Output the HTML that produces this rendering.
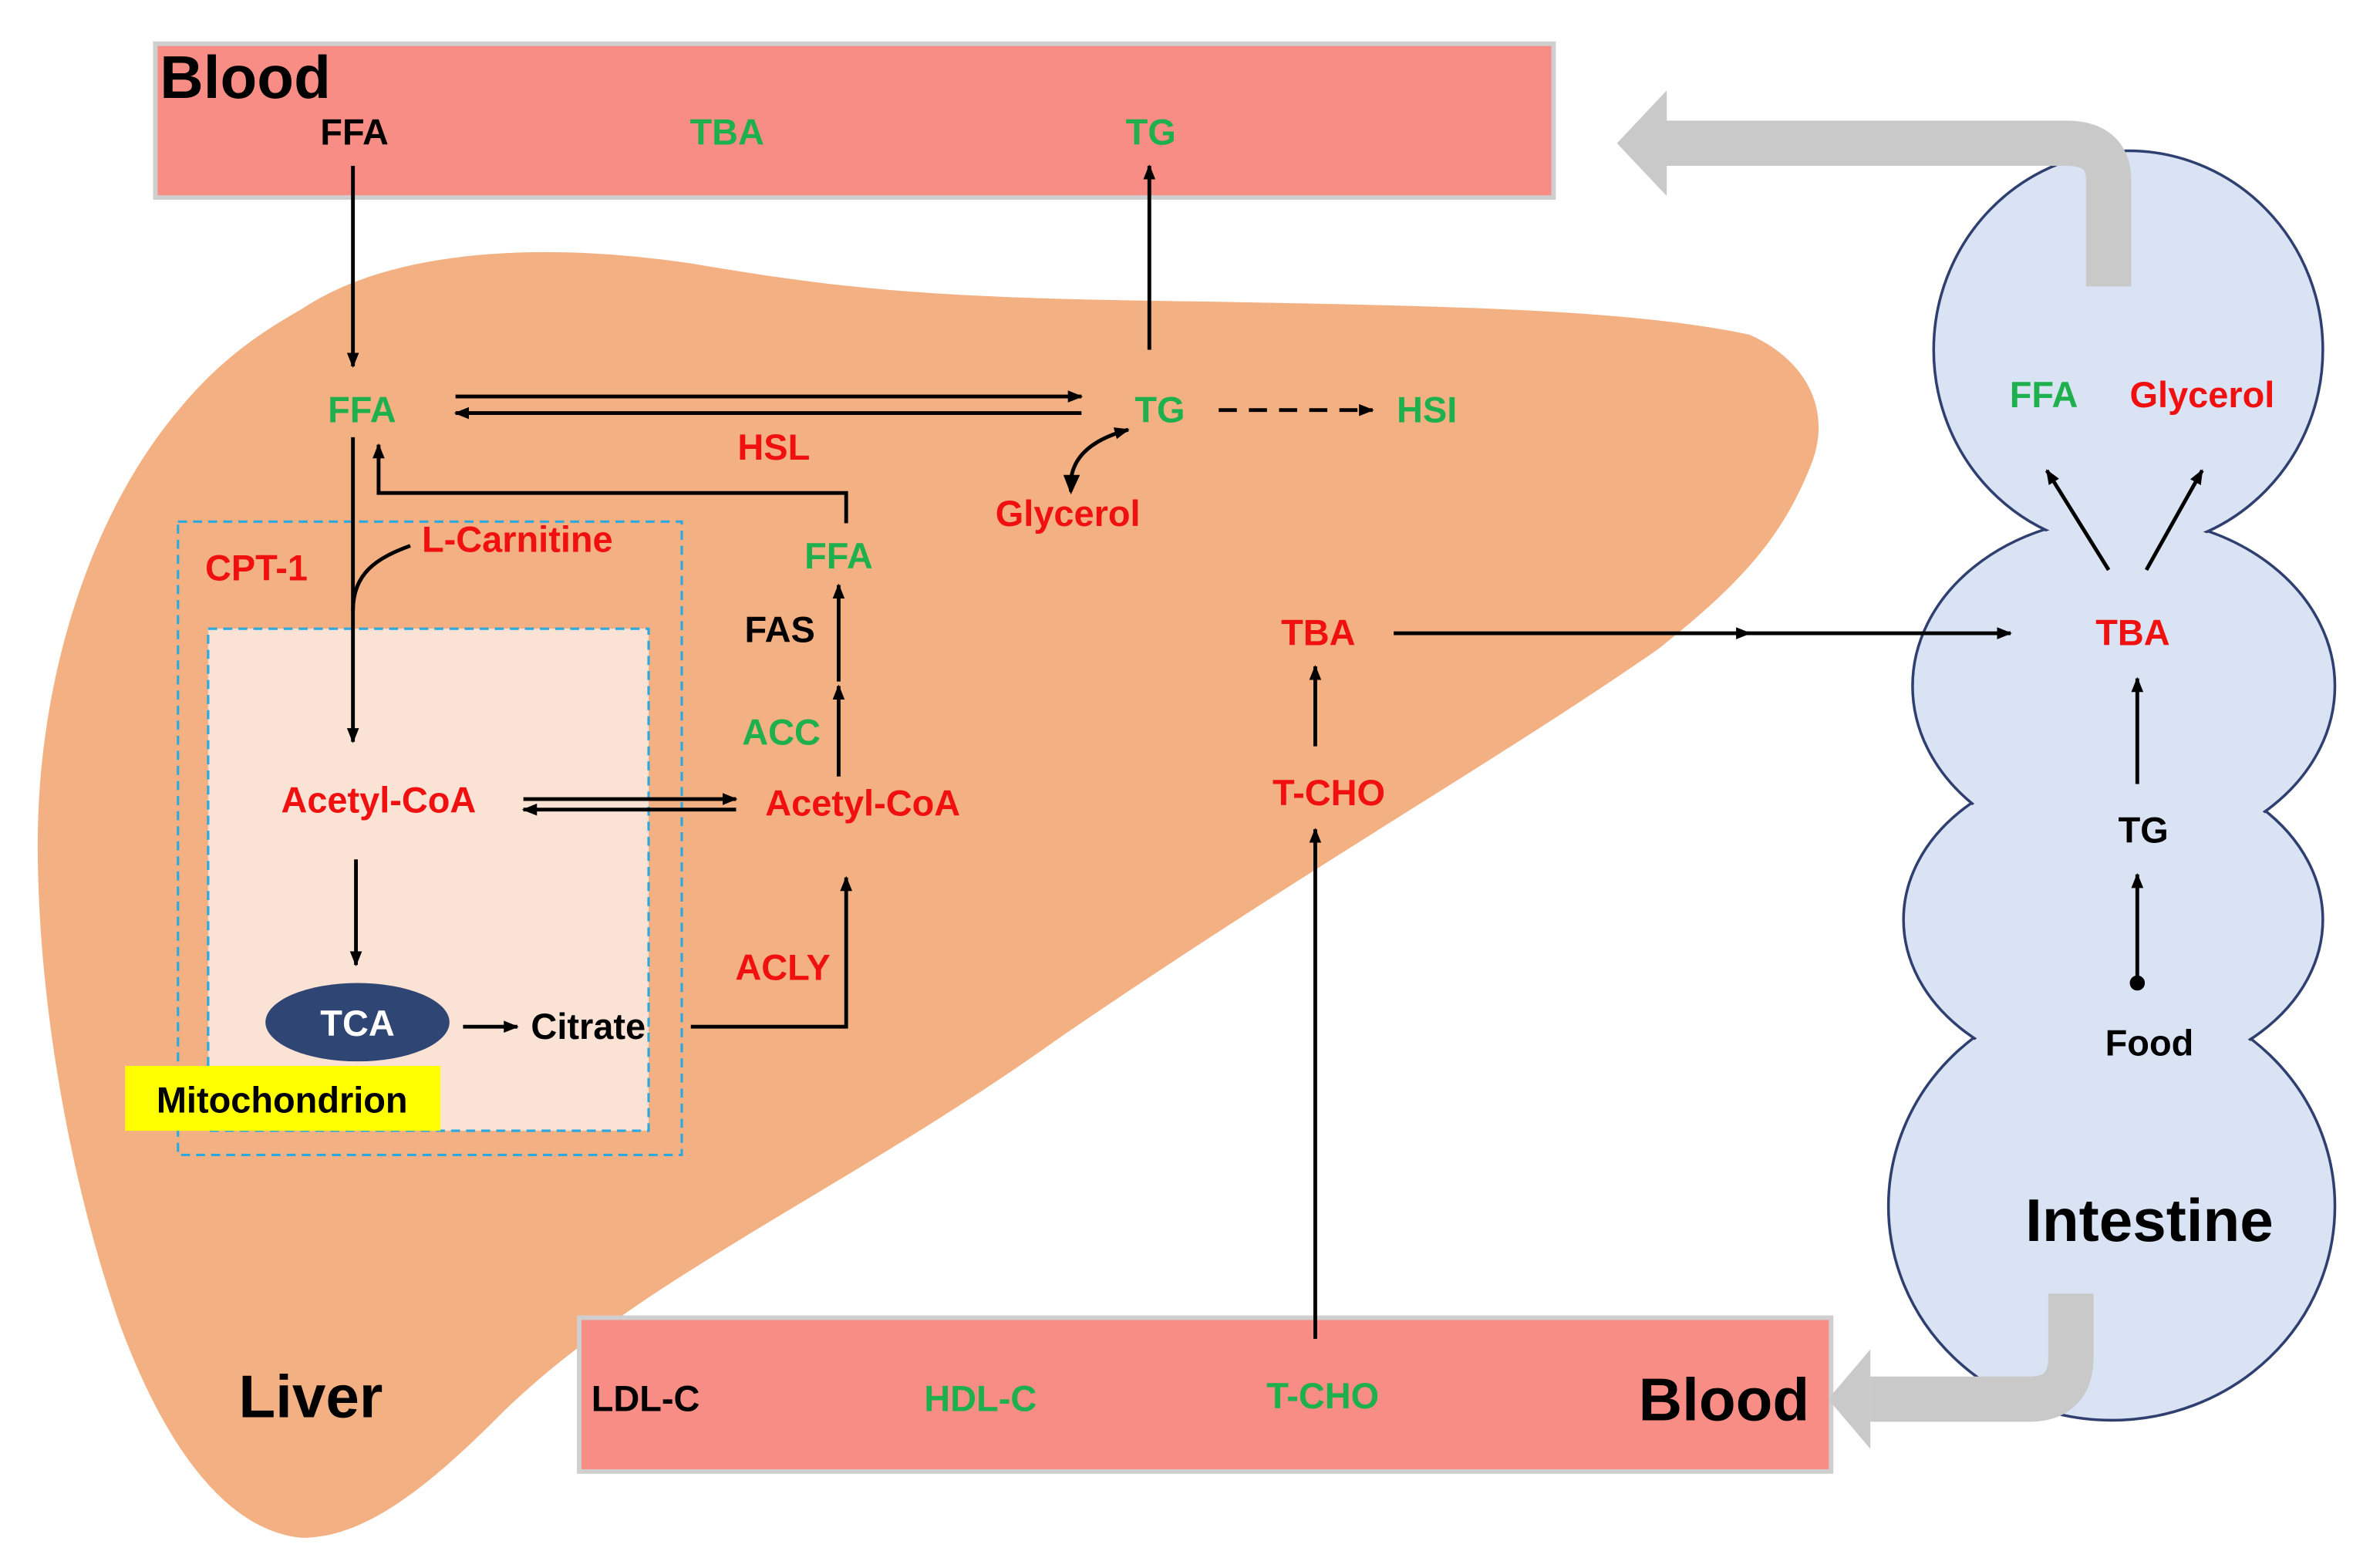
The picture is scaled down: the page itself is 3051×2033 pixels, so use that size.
<!DOCTYPE html>
<html><head><meta charset="utf-8"><style>
html,body{margin:0;padding:0;background:#fff;}
svg{display:block;}
text{font-family:"Liberation Sans",Arial,sans-serif;font-weight:bold;}
</style></head><body>
<svg width="3051" height="2033" viewBox="0 0 1560 1040" preserveAspectRatio="none" xmlns="http://www.w3.org/2000/svg">
<defs>
<marker id="ah" markerWidth="10" markerHeight="10" refX="9" refY="5" orient="auto" markerUnits="userSpaceOnUse">
<path d="M0,1 L10,5 L0,9 Z" fill="#000"/></marker>
</defs>
<path d="M200,205 C260,165 360,160 460,175 C560,192 620,198 800,200 C960,203 1080,205 1160,222 C1200,240 1215,275 1200,310 C1180,360 1150,390 1100,430 C1000,500 860,580 700,690 C560,790 420,850 330,940 C280,990 240,1020 200,1020 C150,1015 110,960 80,880 C45,780 25,660 25,560 C25,450 60,340 120,270 C145,240 170,222 200,205 Z" fill="#f3b183"/>
<rect x="118" y="346" width="334" height="420" fill="none" stroke="#29a9e0" stroke-width="1.6" stroke-dasharray="6,4"/>
<rect x="138" y="417" width="292" height="333" fill="#fae3d5" stroke="#29a9e0" stroke-width="1.6" stroke-dasharray="6,4"/>
<g fill="#dae3f3" stroke="#2f3f6f" stroke-width="1.8">
<ellipse cx="1400" cy="800" rx="148" ry="142"/>
<ellipse cx="1401" cy="610" rx="139" ry="105"/>
<ellipse cx="1408" cy="455" rx="140" ry="112"/>
<ellipse cx="1411" cy="232" rx="129" ry="132"/>
</g>
<g fill="#dae3f3" stroke="none">
<ellipse cx="1400" cy="800" rx="146.5" ry="140.5"/>
<ellipse cx="1401" cy="610" rx="137.5" ry="103.5"/>
<ellipse cx="1408" cy="455" rx="138.5" ry="110.5"/>
<ellipse cx="1411" cy="232" rx="127.5" ry="130.5"/>
</g>
<rect x="103" y="29" width="927" height="102" fill="#f88d86" stroke="#cfcfcf" stroke-width="3"/>
<rect x="384" y="874" width="830" height="102" fill="#f88d86" stroke="#cfcfcf" stroke-width="3"/>
<path d="M1398,190 L1398,120 Q1398,95 1370,95 L1100,95" fill="none" stroke="#c9c9c9" stroke-width="30"/>
<path d="M1072,95 L1105,60 L1105,130 Z" fill="#c9c9c9"/>
<path d="M1373,858 L1373,900 Q1373,928 1345,928 L1240,928" fill="none" stroke="#c9c9c9" stroke-width="30"/>
<path d="M1212,928 L1240,895 L1240,961 Z" fill="#c9c9c9"/>
<g stroke="#000" stroke-width="2.5" fill="none" marker-end="url(#ah)">
<line x1="234" y1="110" x2="234" y2="243"/>
<line x1="762" y1="232" x2="762" y2="110"/>
<line x1="302" y1="263" x2="717" y2="263"/>
<line x1="717" y1="274" x2="302" y2="274"/>
<line x1="808" y1="272" x2="910" y2="272" stroke-dasharray="12,8"/>
<path d="M710,326 C708,305 722,292 748,285"/>
<path d="M561,347 L561,327 L251,327 L251,295"/>
<line x1="234" y1="290" x2="234" y2="492"/>
<line x1="347" y1="530" x2="488" y2="530"/>
<line x1="488" y1="537" x2="347" y2="537"/>
<line x1="236" y1="570" x2="236" y2="640"/>
<line x1="307" y1="681" x2="343" y2="681"/>
<path d="M458,681 L561,681 L561,582"/>
<line x1="556" y1="515" x2="556" y2="455"/>
<line x1="556" y1="452" x2="556" y2="388"/>
<line x1="872" y1="495" x2="872" y2="442"/>
<line x1="872" y1="888" x2="872" y2="550"/>
<line x1="924" y1="420" x2="1160" y2="420"/>
<line x1="1150" y1="420" x2="1333" y2="420"/>
<line x1="1417" y1="520" x2="1417" y2="450"/>
<line x1="1417" y1="652" x2="1417" y2="580"/>
<line x1="1398" y1="378" x2="1357" y2="312"/>
<line x1="1423" y1="378" x2="1460" y2="312"/>
</g>
<path d="M705,315 L710,328 L716,315" fill="#000"/>
<path d="M272,362 C250,370 234,380 234,405" stroke="#000" stroke-width="2.5" fill="none"/>
<circle cx="1417" cy="652" r="5" fill="#000"/>
<ellipse cx="237" cy="678" rx="61" ry="26" fill="#2f4573"/>
<rect x="83" y="707" width="209" height="43" fill="#ffff00"/>
<text x="106" y="65" font-size="40" fill="#000">Blood</text>
<g font-size="24" text-anchor="middle">
<text x="235" y="96" fill="#000">FFA</text>
<text x="482" y="96" fill="#1db04c">TBA</text>
<text x="763" y="96" fill="#1db04c">TG</text>
<text x="240" y="280" fill="#1db04c">FFA</text>
<text x="769" y="280" fill="#1db04c">TG</text>
<text x="946" y="280" fill="#1db04c">HSI</text>
<text x="513" y="305" fill="#f01010">HSL</text>
<text x="708" y="349" fill="#f01010">Glycerol</text>
<text x="556" y="377" fill="#1db04c">FFA</text>
<text x="517" y="426" fill="#000">FAS</text>
<text x="518" y="494" fill="#1db04c">ACC</text>
<text x="251" y="539" fill="#f01010">Acetyl-CoA</text>
<text x="572" y="541" fill="#f01010">Acetyl-CoA</text>
<text x="519" y="650" fill="#f01010">ACLY</text>
<text x="874" y="428" fill="#f01010">TBA</text>
<text x="881" y="534" fill="#f01010">T-CHO</text>
<text x="170" y="385" fill="#f01010">CPT-1</text>
<text x="343" y="366" fill="#f01010">L-Carnitine</text>
<text x="237" y="687" fill="#fff">TCA</text>
<text x="390" y="689" fill="#000">Citrate</text>
<text x="187" y="738" fill="#000">Mitochondrion</text>
<text x="428" y="936" fill="#000">LDL-C</text>
<text x="650" y="936" fill="#1db04c">HDL-C</text>
<text x="877" y="934" fill="#1db04c">T-CHO</text>
<text x="1143" y="942" font-size="40" fill="#000">Blood</text>
<text x="206" y="940" font-size="40" fill="#000">Liver</text>
<text x="1355" y="270" fill="#1db04c">FFA</text>
<text x="1460" y="270" fill="#f01010">Glycerol</text>
<text x="1414" y="428" fill="#f01010">TBA</text>
<text x="1421" y="559" fill="#000">TG</text>
<text x="1425" y="700" fill="#000">Food</text>
<text x="1425" y="823" font-size="40" fill="#000">Intestine</text>
</g>
</svg>
</body></html>
